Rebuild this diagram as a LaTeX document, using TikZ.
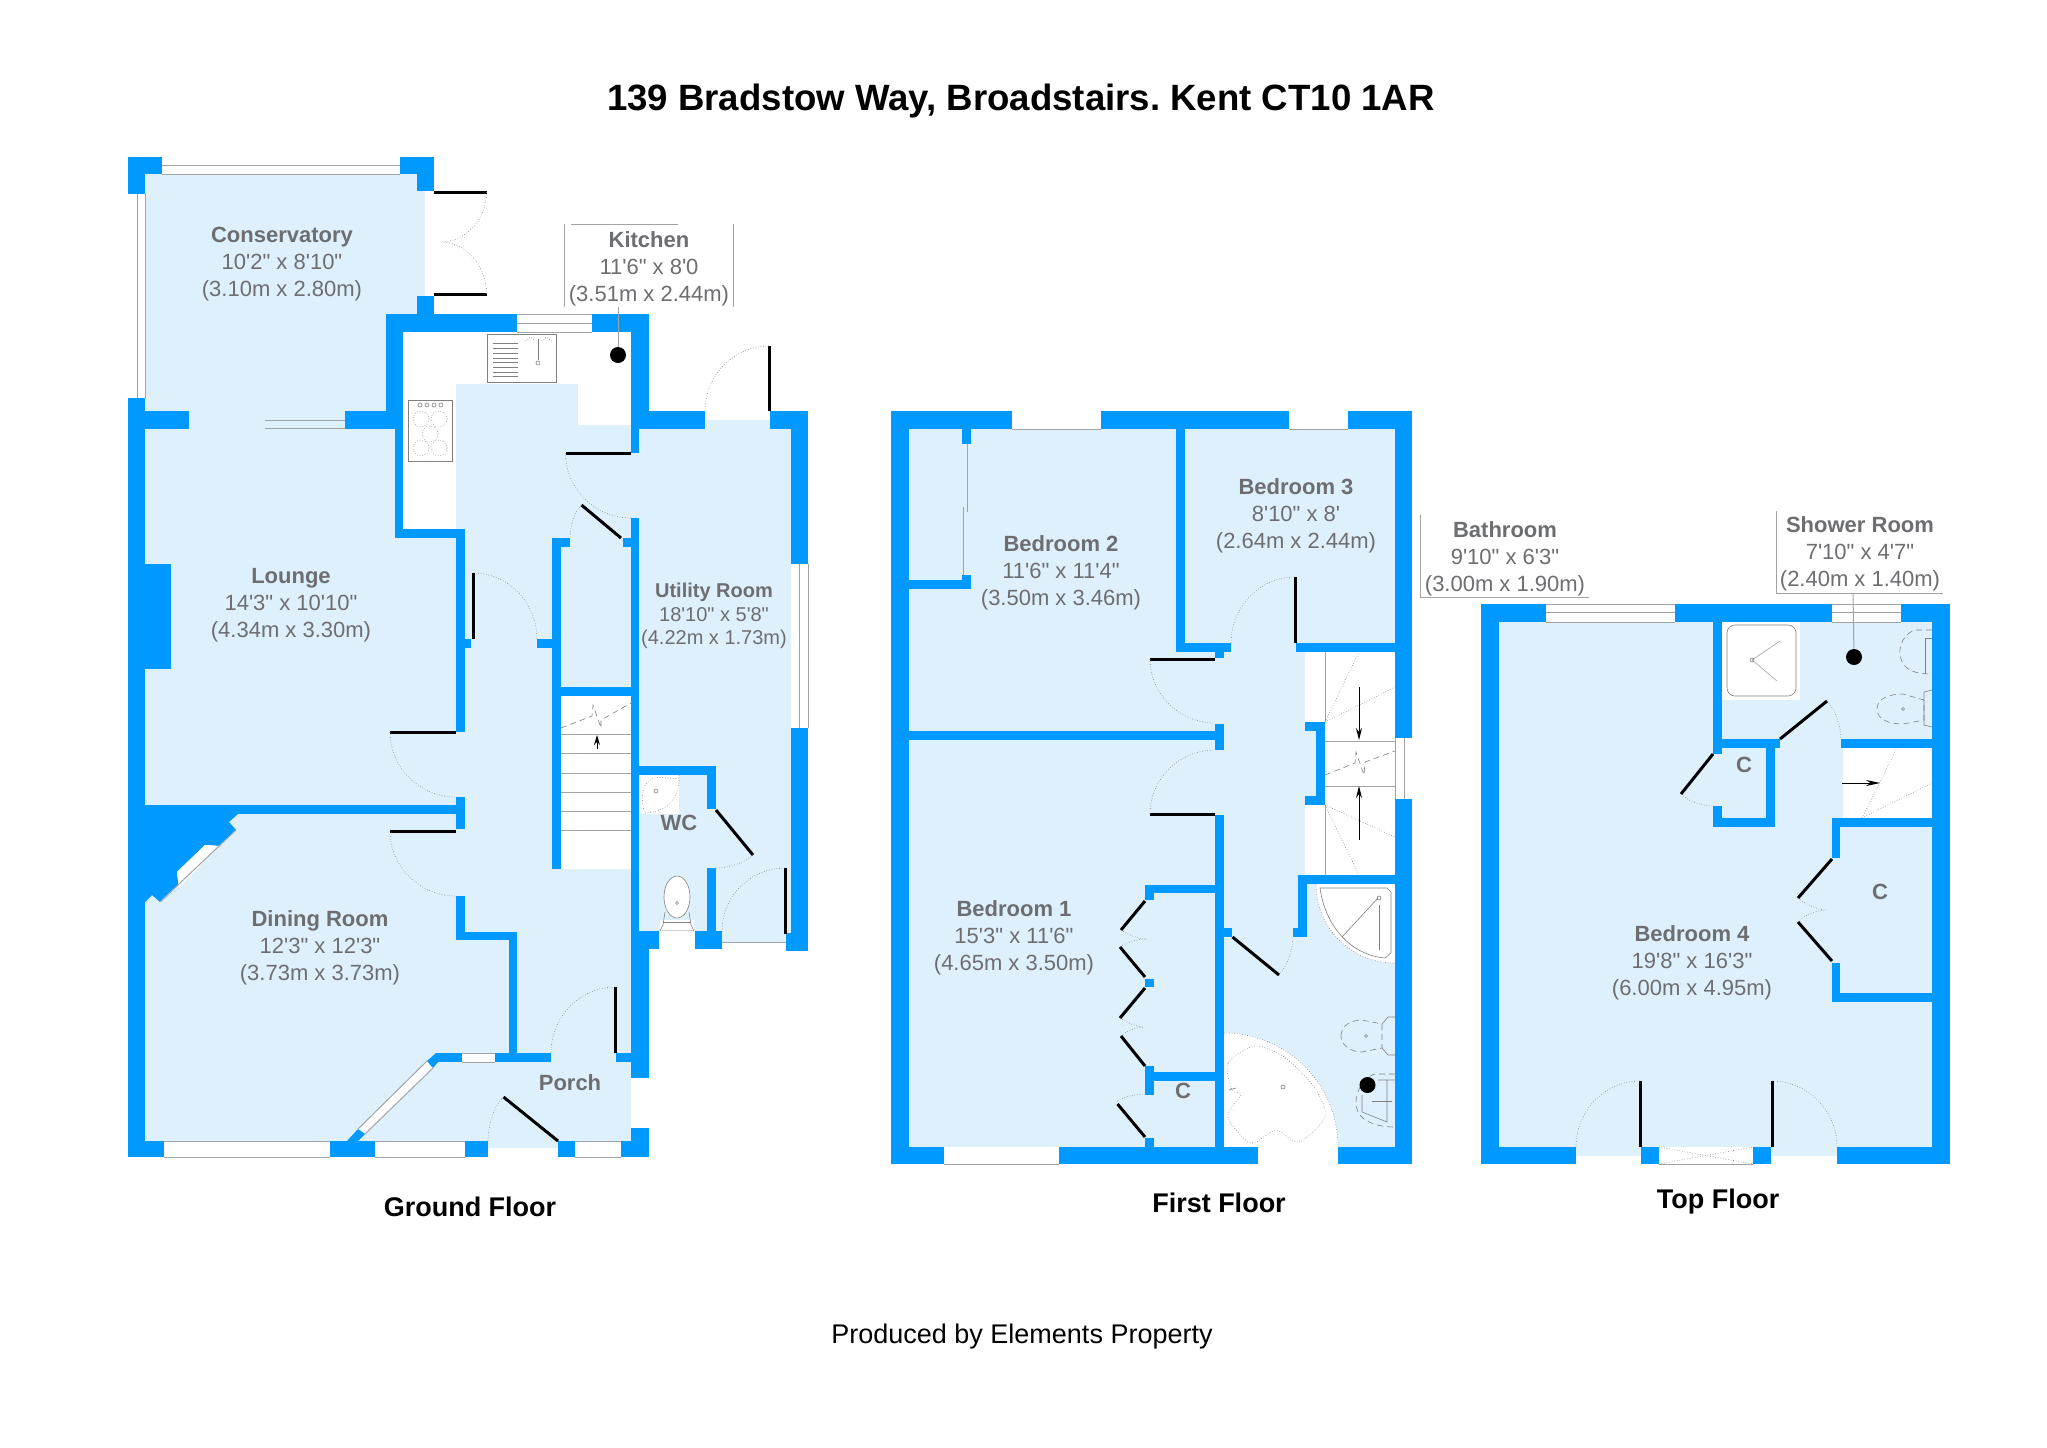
\documentclass[tikz,border=0pt]{standalone}
\usepackage{fontspec}
\usetikzlibrary{calc,arrows.meta}
\newfontfamily\lsans{Liberation Sans}
\definecolor{wallc}{HTML}{0099FF}
\definecolor{floorc}{HTML}{DFF0FD}
\definecolor{textc}{HTML}{6D6E71}
\definecolor{linec}{HTML}{A0A4A8}
\tikzset{
  roomlabel/.style={font=\lsans\fontsize{11}{13.4}\selectfont,text=textc,align=center,inner sep=0pt},
  smalllabel/.style={font=\lsans\fontsize{10}{11.6}\selectfont,text=textc,align=center,inner sep=0pt},
  capt/.style={font=\lsans\bfseries\fontsize{13.5}{16}\selectfont,text=black,inner sep=0pt},
  fixture/.style={draw=gray,line width=.3pt},
  gline/.style={draw=linec,line width=.5pt},
  swingline/.style={draw=gray,line width=.3pt,densely dotted},
  leafline/.style={draw=black,line width=1.5pt},
  dotmark/.style={circle,fill=black,minimum size=8pt,inner sep=0pt},
}
\newcommand\wallr[4]{\fill[wallc] (#1,#2) rectangle (#3,#4);}
\newcommand\flr[4]{\fill[floorc] (#1,#2) rectangle (#3,#4);}
\newcommand\wht[4]{\fill[white] (#1,#2) rectangle (#3,#4);}
\newcommand\swing[6]{\draw[swingline] (#1,#2) .. controls ($(#1,#2)!0.55!(#3,#4)$) and ($(#5,#6)!0.55!(#3,#4)$) .. (#5,#6);}
\newcommand\leafb[4]{\draw[leafline] (#1,#2) -- (#3,#4);}
\newcommand\fine[4]{\draw[gline] (#1,#2) -- (#3,#4);}
\begin{document}
\frenchspacing
\begin{tikzpicture}[x=0.5pt,y=-0.5pt]
\useasboundingbox (0,0) rectangle (2047,1447);
\fill[white] (0,0) rectangle (2047,1447);

% ---------- GROUND FLOOR: floors
\flr{145}{174}{425}{420}
\flr{189}{411}{345}{429}
\flr{145}{420}{631}{1148}
\flr{631}{429}{791}{942}
\flr{705}{420}{770}{429}
\wht{403}{332}{631}{529}
\flr{456}{384}{578}{540}
\flr{578}{425}{631}{540}
\wht{561}{696}{631}{869}
% hob, sink, wc fixtures
\draw[fixture,fill=white] (408,400) rectangle (452,461);
\foreach \a/\b in {421/419,439/419,430/434,421/448,439/448}{\draw[fixture,densely dotted] (\a,\b) circle (8);}
\foreach \a in {420,427,434,441}{\draw[fixture] (\a,405) circle (2);}
\draw[fixture,fill=white] (487,334) rectangle (556,382);
\foreach \b in {343,348,353,358,362,367,372,376}{\draw[fixture] (493,\b) -- (518,\b);}
\draw[fixture] (538,339) -- (538,360);
\draw[fixture] (538,363) circle (2);
\draw[fixture,densely dotted] (525,341) -- (530,337) -- (535,341) (541,341) -- (546,337) -- (552,341);
\wht{640}{775}{679}{814}
\draw[fixture,densely dotted] (679,775) .. controls (680,795) and (670,812) .. (645,813) .. controls (640,800) and (642,782) .. (652,779) .. controls (660,775) and (670,780) .. (679,778);
\draw[fixture] (656,791) circle (2);
\fill[white] (660,920) rectangle (694,931);
\fill[white] (677,897) ellipse (13 and 21);
\draw[fixture] (677,897) ellipse (13 and 21);
\draw[fixture] (665,912) -- (663,925) -- (660,931) -- (694,931) -- (691,925) -- (689,912);
\draw[fixture] (663,922) -- (691,922);
\draw[fixture] (677,903) circle (1.5);

% stairs ground
\foreach \b in {734,753.5,773,792,811,830}{\draw[gline,line width=.4pt] (561,\b) -- (631,\b);}
\draw[fixture,densely dashed] (561,728) -- (592,716) -- (593,705) -- (601,728) -- (601,720) -- (631,703);
\draw[black,line width=.5pt,-{Stealth[length=5pt,width=3pt]}] (597,749) -- (597,735);

% ---------- GROUND FLOOR: windows (white bands with grey lines)
\fine{162}{165}{400}{165}\fine{162}{174}{400}{174}
\fine{137}{194}{137}{398}\fine{145}{194}{145}{398}
\fine{345}{420}{265}{420}\fine{345}{428}{265}{428}
\fine{517}{314}{592}{314}\fine{517}{323}{592}{323}\fine{517}{332}{592}{332}
\wht{791}{564}{808}{728}
\fine{799}{564}{799}{728}\fine{808}{564}{808}{728}
\wht{659}{931}{695}{949}
\wht{722}{942}{786}{951}
\fine{722}{942}{786}{942}
\wht{164}{1141}{330}{1157}\fine{164}{1141}{330}{1141}\fine{164}{1157}{330}{1157}
\wht{375}{1141}{465}{1157}\fine{375}{1141}{465}{1141}\fine{375}{1157}{465}{1157}
\wht{575}{1141}{621}{1157}\fine{575}{1141}{621}{1141}\fine{575}{1157}{621}{1157}
\wht{631}{1078}{649}{1128}
\wht{462}{1053}{495}{1062}\fine{462}{1053}{495}{1053}\fine{462}{1062}{495}{1062}
\fill[white] (358,1129) -- (365,1134) -- (433,1068) -- (427,1061) -- cycle;
\fine{365}{1134}{433}{1068}\fine{358}{1129}{427}{1061}

% ---------- GROUND FLOOR: walls
\wallr{128}{157}{162}{174}\wallr{128}{157}{145}{194}
\wallr{400}{157}{434}{174}\wallr{417}{157}{434}{191}
\wallr{417}{296}{434}{314}
\wallr{386}{314}{517}{332}\wallr{592}{314}{649}{332}
\wallr{386}{314}{403}{411}\wallr{395}{411}{403}{538}
\wallr{395}{529}{465}{538}\wallr{456}{529}{465}{732}
\wallr{465}{639}{471}{648}
\wallr{631}{314}{649}{429}\wallr{631}{411}{639}{453}
\wallr{631}{411}{705}{429}\wallr{770}{411}{808}{429}
\wallr{791}{411}{808}{564}\wallr{791}{728}{808}{951}\wallr{786}{933}{808}{951}
\wallr{128}{398}{145}{1157}\wallr{128}{411}{189}{429}\wallr{345}{411}{403}{429}
\wallr{145}{564}{171}{669}
\wallr{145}{805}{456}{814}\wallr{456}{797}{465}{829}
\fill[wallc] (145,805) -- (238,814) -- (229,822) -- (236,830) -- (219,846) -- (205,845) -- (177,872) -- (179,888) -- (160,902) -- (152,895) -- (145,902) -- cycle;
\fill[floorc] (236,830) -- (219,846) -- (205,845) -- (177,872) -- (179,888) -- (160,902) -- cycle;
\fill[white] (219,846) -- (205,845) -- (177,872) -- (179,888) -- cycle;
\fine{236}{830}{160}{902}
\wallr{145}{805}{238}{814}
\wallr{456}{896}{465}{940}\wallr{456}{932}{517}{940}\wallr{509}{932}{517}{1053}
\wallr{436}{1053}{462}{1062}\wallr{495}{1053}{551}{1062}\wallr{616}{1053}{631}{1062}
\fill[wallc] (436,1053) -- (427,1061) -- (433,1068) -- (438,1062) -- cycle;
\fill[wallc] (347,1141) -- (358,1129) -- (365,1134) -- (358,1141) -- cycle;
\wallr{631}{518}{639}{931}\wallr{631}{931}{649}{1078}\wallr{631}{1128}{649}{1157}
\wallr{621}{1141}{649}{1157}
\wallr{128}{1141}{164}{1157}\wallr{330}{1141}{375}{1157}\wallr{465}{1141}{488}{1157}\wallr{558}{1141}{575}{1157}
\wallr{623}{538}{631}{547}
\wallr{552}{538}{570}{547}\wallr{552}{538}{561}{869}\wallr{537}{639}{552}{648}
\wallr{561}{687}{631}{696}
\wallr{639}{766}{716}{775}\wallr{707}{766}{716}{809}\wallr{707}{868}{716}{931}
\wallr{639}{931}{659}{949}\wallr{695}{931}{722}{949}
% ground doors
\leafb{434}{192}{486.5}{192}\leafb{434}{294}{486.5}{294}
\swing{486.5}{192}{486.5}{242}{440.6}{242}
\swing{486.5}{294}{486.5}{242}{440.6}{242}
\leafb{769}{346}{769}{411}\swing{769}{346}{705}{346}{705}{411}
\leafb{565.5}{453}{631}{453}\swing{565.5}{453}{565.5}{518}{631}{518}
\leafb{581.5}{505}{621}{538}\swing{581.5}{505}{570}{515}{570}{538}
\leafb{473}{573}{473}{639}\swing{473}{573}{537}{573}{537}{639}
\leafb{390}{732}{456}{732}\swing{390}{732}{390}{797}{456}{797}
\leafb{390}{831}{456}{831}\swing{390}{831}{390}{896}{456}{896}
\leafb{615.5}{987}{615.5}{1053}\swing{615.5}{987}{551}{987}{551}{1053}
\leafb{558}{1141}{503.5}{1097}\swing{503.5}{1097}{488}{1110}{488}{1141}
\leafb{716}{810}{753}{855}\swing{753}{855}{740}{868}{716}{868}
\leafb{785}{868}{785}{934}\swing{785}{868}{722}{868}{722}{931}

% ---------- FIRST FLOOR
\flr{909}{429}{1395}{1147}
\wht{1305}{652}{1395}{875}
\flr{1305}{731}{1316}{796}
% windows
\fine{1012}{429}{1101}{429}\fine{1289}{429}{1348}{429}
\fine{944}{1164}{1059}{1164}
\wht{1395}{738}{1412}{799}\fine{1395}{738}{1395}{799}\fine{1404}{738}{1404}{799}
% bath, shower, wc
\fill[white] (1224,1147) -- (1224,1033) .. controls (1287,1033) and (1338,1084) .. (1338,1147) -- cycle;
\draw[fixture,densely dotted] (1224,1033) .. controls (1287,1033) and (1338,1084) .. (1338,1147);
\draw[fixture,densely dotted] plot[smooth cycle] coordinates {(1255,1046) (1228,1063) (1232,1090) (1241,1095) (1228,1117) (1251,1143) (1276,1130) (1298,1142) (1325,1117) (1314,1087) (1284,1057)};
\draw[fixture] (1283,1087) circle (2);
\draw[fixture] (1229,1090) -- (1236,1088);
\fill[white] (1316,884) .. controls (1316,928) and (1351,963) .. (1395,963) -- (1395,884) -- cycle;
\draw[fixture,densely dotted] (1316,884) .. controls (1316,928) and (1351,963) .. (1395,963);
\draw[fixture] (1320,888) .. controls (1325,925) and (1350,955) .. (1385,958) -- (1391,953) -- (1391,892) -- (1387,888) -- cycle;
\draw[fixture] (1379,905) -- (1379,950);
\draw[fixture] (1378,898) -- (1342,937);
\draw[fixture] (1379,898) circle (2);
\draw[fixture,densely dashed] (1341,1036) .. controls (1341,1025) and (1352,1020) .. (1362,1020) -- (1382,1024) -- (1382,1048) -- (1362,1052) .. controls (1352,1052) and (1341,1046) .. (1341,1036);
\draw[fixture] (1382,1024) -- (1388,1017) -- (1395,1017) (1382,1048) -- (1388,1055) -- (1395,1055);
\draw[fixture] (1366,1036) circle (1.5);
\draw[fixture,densely dashed] (1395,1074) -- (1375,1074) .. controls (1360,1078) and (1352,1100) .. (1358,1112) .. controls (1363,1122) and (1378,1127) .. (1395,1127);
\draw[fixture] (1395,1080) -- (1378,1080) (1362,1095) -- (1362,1112) -- (1387,1122) -- (1387,1080);
\draw[fixture] (1372,1101) -- (1392,1101);
% stairs
\fine{1325}{652}{1325}{722}\fine{1325}{805}{1325}{875}
\fine{1325}{741}{1395}{741}\fine{1395}{741}{1395}{799}
\draw[fixture,draw=linec] (1325,786) -- (1395,786);
\draw[fixture,densely dotted] (1325,722) -- (1359,652) (1325,722) -- (1395,687) (1325,805) -- (1359,875) (1325,805) -- (1395,837);
\draw[fixture,densely dashed] (1325,775) -- (1355,763) -- (1356,752) -- (1364,775) -- (1365,762) -- (1395,751);
\draw[black,line width=.5pt,-{Stealth[length=6pt,width=3pt]}] (1359,687) -- (1359,740);
\draw[black,line width=.5pt,-{Stealth[length=6pt,width=3pt]}] (1359,840) -- (1359,786);
% walls
\wallr{891}{411}{1012}{429}\wallr{1101}{411}{1289}{429}\wallr{1348}{411}{1412}{429}
\wallr{891}{411}{909}{1164}\wallr{1395}{411}{1412}{738}\wallr{1395}{799}{1412}{1164}
\wallr{891}{1147}{944}{1164}\wallr{1059}{1147}{1258}{1164}\wallr{1338}{1147}{1412}{1164}
\wallr{1176}{429}{1185}{652}\wallr{1176}{643}{1231}{652}\wallr{1215}{652}{1224}{658}
\wallr{1296}{643}{1395}{652}
\wallr{909}{731}{1215}{740}\wallr{1215}{724}{1224}{750}
\wallr{1215}{815}{1224}{1147}\wallr{1224}{928}{1232}{937}
\wallr{1145}{885}{1215}{893}\wallr{1145}{885}{1154}{900}
\wallr{1145}{979}{1154}{987}
\wallr{1145}{1066}{1154}{1095}\wallr{1154}{1072}{1215}{1081}
\wallr{1145}{1138}{1154}{1147}
\wallr{962}{429}{971}{444}\wallr{962}{575}{971}{589}\wallr{909}{580}{971}{589}
\wallr{1305}{722}{1325}{731}\wallr{1316}{731}{1325}{805}\wallr{1305}{796}{1325}{805}
\wallr{1298}{875}{1395}{884}\wallr{1298}{884}{1307}{937}\wallr{1293}{928}{1307}{937}
\fine{967}{444}{967}{512}\fine{963}{507}{963}{575}
% doors
\leafb{1295}{577}{1295}{643}\swing{1295}{577}{1231}{577}{1231}{643}
\leafb{1150}{659}{1215}{659}\swing{1150}{659}{1150}{723}{1215}{723}
\leafb{1150}{814}{1215}{814}\swing{1150}{814}{1150}{750}{1215}{750}
\leafb{1145}{901}{1121}{930}\leafb{1120}{947}{1145}{977}
\swing{1121}{930}{1134}{939}{1146}{939}\swing{1120}{947}{1130}{939}{1146}{939}
\leafb{1145}{988}{1120}{1018}\leafb{1121}{1036}{1145}{1066}
\swing{1120}{1018}{1133}{1027}{1144}{1027}\swing{1121}{1036}{1130}{1027}{1144}{1027}
\leafb{1145}{1137}{1117.5}{1104}\swing{1117.5}{1101}{1127}{1094}{1145}{1094}
\leafb{1232.5}{937}{1279}{975}\swing{1279}{975}{1293}{960}{1293}{937}

% ---------- TOP FLOOR
\flr{1499}{622}{1932}{1156}
\wht{1722}{622}{1800}{700}
\wht{1842.5}{748}{1932}{818}
\wht{1659}{1147}{1753}{1164}
\fine{1546}{604}{1675}{604}\fine{1546}{612}{1675}{612}\fine{1546}{622}{1675}{622}
\fine{1832}{604}{1901}{604}\fine{1832}{612}{1901}{612}\fine{1832}{622}{1901}{622}
\draw[fixture,densely dotted] (1659,1147) -- (1753,1164) (1659,1164) -- (1753,1147);
\fine{1659}{1164}{1753}{1164}
\draw[fixture,rounded corners=4pt] (1727,625) rectangle (1796,696);
\draw[fixture,draw=linec] (1780,641) -- (1752,660) -- (1777,681);
\draw[fixture] (1752,660) circle (2);
\draw[fixture,densely dashed] (1932,630) -- (1915,630) .. controls (1900,635) and (1895,655) .. (1905,666) .. controls (1910,672) and (1920,674) .. (1932,674);
\draw[fixture] (1932,638) -- (1925,638) -- (1925,674);
\draw[fixture,densely dashed] (1877,709) .. controls (1877,698) and (1890,694) .. (1903,694) -- (1924,700) -- (1924,720) -- (1903,724) .. controls (1890,724) and (1877,720) .. (1877,709);
\draw[fixture] (1924,692) -- (1932,690) (1924,725) -- (1932,727) (1924,692) -- (1924,725);
\draw[fixture] (1903,709) circle (1.5);
% stairs top
\draw[fixture,densely dotted] (1862,818) -- (1897,748) (1862,818) -- (1932,783);
\draw[black,line width=.4pt,-{Stealth[length=7pt,width=3pt]}] (1842,783) -- (1880,783);
% walls
\wallr{1481}{604}{1546}{622}\wallr{1675}{604}{1832}{622}\wallr{1901}{604}{1950}{622}
\wallr{1481}{604}{1499}{1164}\wallr{1932}{604}{1950}{1164}
\wallr{1481}{1147}{1576}{1164}\wallr{1641}{1147}{1659}{1164}\wallr{1753}{1147}{1771}{1164}\wallr{1837}{1147}{1950}{1164}
\wallr{1713}{622}{1722}{754}\wallr{1713}{739}{1780}{748}
\wallr{1766}{748}{1775}{827}\wallr{1713}{818}{1775}{827}\wallr{1713}{806}{1722}{827}
\wallr{1841}{739}{1932}{748}
\wallr{1831.5}{818}{1932}{827}\wallr{1831.5}{818}{1840}{858}
\wallr{1832}{963}{1840}{1002}\wallr{1840}{993}{1932}{1002}
% doors
\leafb{1640}{1081}{1640}{1147}\swing{1640}{1081}{1576}{1081}{1576}{1147}
\leafb{1772}{1081}{1772}{1147}\swing{1772}{1081}{1837}{1081}{1837}{1147}
\leafb{1713}{754}{1681}{794}\swing{1681}{794}{1692}{806}{1713}{806}
\leafb{1780}{739}{1827}{701}\swing{1827}{701}{1841}{715}{1841}{739}
\leafb{1832}{859}{1798}{898}\leafb{1798}{922}{1832}{961}
\swing{1798}{898}{1812}{910}{1826}{910}\swing{1798}{922}{1808}{910}{1826}{910}

% ---------- label brackets and dots
\coordinate (kitchenLine) at (618,307);
\coordinate (showerLine) at (1853,593);
\node[dotmark] (boiler) at (618,355) {};
\node[dotmark] (bathdot) at (1367.5,1085) {};
\node[dotmark] (showerdot) at (1854,657) {};
\draw[gline] (kitchenLine) -- (boiler);
\draw[gline] (showerLine) -- (showerdot);
\fine{564}{224}{564}{307}\fine{571}{224}{678}{224}\fine{733}{224}{733}{307}
\fine{1420}{515}{1420}{597}\fine{1420}{597}{1589}{597}
\fine{1776}{511}{1776}{593}\fine{1776}{593}{1943}{593}

% ---------- text
\node[font=\lsans\bfseries\fontsize{18.3}{22}\selectfont,text=black,inner sep=0pt] (title) at (1021,101) {139 Bradstow Way, Broadstairs. Kent CT10 1AR};
\node[roomlabel] (conservatory) at (282,264) {\textbf{Conservatory}\\10'2" x 8'10"\\(3.10m x 2.80m)};
\node[roomlabel] (kitchen) at (649,269) {\textbf{Kitchen}\\11'6" x 8'0\\(3.51m x 2.44m)};
\node[roomlabel] (lounge) at (291,605) {\textbf{Lounge}\\14'3" x 10'10"\\(4.34m x 3.30m)};
\node[smalllabel] (utility) at (714,616) {\textbf{Utility Room}\\18'10" x 5'8"\\(4.22m x 1.73m)};
\node[roomlabel] (wc) at (679,823) {\textbf{WC}};
\node[roomlabel] (dining) at (320,948) {\textbf{Dining Room}\\12'3" x 12'3"\\(3.73m x 3.73m)};
\node[roomlabel] (porch) at (570,1083) {\textbf{Porch}};
\node[roomlabel] (bed2) at (1061,573) {\textbf{Bedroom 2}\\11'6" x 11'4"\\(3.50m x 3.46m)};
\node[roomlabel] (bed3) at (1296,516) {\textbf{Bedroom 3}\\8'10" x 8'\\(2.64m x 2.44m)};
\node[roomlabel] (bed1) at (1014,938) {\textbf{Bedroom 1}\\15'3" x 11'6"\\(4.65m x 3.50m)};
\node[roomlabel] (c1) at (1183,1091) {\textbf{C}};
\node[roomlabel] (bathroom) at (1505,559) {\textbf{Bathroom}\\9'10" x 6'3"\\(3.00m x 1.90m)};
\node[roomlabel] (shower) at (1860,554) {\textbf{Shower Room}\\7'10" x 4'7"\\(2.40m x 1.40m)};
\node[roomlabel] (bed4) at (1692,963) {\textbf{Bedroom 4}\\19'8" x 16'3"\\(6.00m x 4.95m)};
\node[roomlabel] (c2) at (1744,765) {\textbf{C}};
\node[roomlabel] (c3) at (1880,892) {\textbf{C}};
\node[capt] (ground) at (470,1207) {Ground Floor};
\node[capt] (first) at (1219,1203) {First Floor};
\node[capt] (top) at (1718,1202) {Top Floor};
\node[font=\lsans\fontsize{13.5}{16}\selectfont,text=black,inner sep=0pt] (producer) at (1022,1337) {Produced by Elements Property};
\end{tikzpicture}
\end{document}
